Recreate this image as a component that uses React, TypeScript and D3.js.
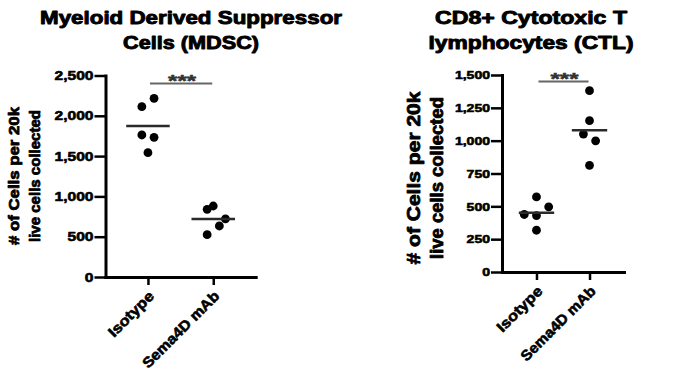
import React, { useEffect, useRef } from 'react';
import * as d3 from 'd3';

// groups on the x axis
const groups = ['Isotype', 'Sema4D mAb'];

// MDSC panel values (cells per 20k live cells)
const mdscIsotype = [2113, 2217, 1762, 1733, 1542];
const mdscSema4D = [840, 881, 720, 633, 525];
const mdscTicks = [0, 500, 1000, 1500, 2000, 2500];
const mdscTitle = ['Myeloid Derived Suppressor', 'Cells (MDSC)'];

// CTL panel values
const ctlIsotype = [572, 496, 438, 430, 318];
const ctlSema4D = [1381, 1152, 1050, 999, 812];
const ctlTicks = [0, 250, 500, 750, 1000, 1250, 1500];
const ctlTitle = ['CD8+ Cytotoxic T', 'lymphocytes (CTL)'];

// column scatter slots (how the points are spread sideways)
const mdscIsoSlots = [-1, 1, -1, 1, 0];
const mdscSemaSlots = [-1, 0, 2, 1, -1];
const ctlIsoSlots = [0, 2, -2, 0, 0];
const ctlSemaSlots = [0, 0, -1, 1, 0];

const yTitle = ['# of Cells per 20k', 'live cells collected'];
const sigLabel = '***';

const FONT = '"Liberation Sans", Arial, Helvetica, sans-serif';

const panels = [
  {
    title: mdscTitle,
    titleX: 191,
    titleLen: [302, 136],
    ticks: mdscTicks,
    series: [mdscIsotype, mdscSema4D],
    slots: [mdscIsoSlots, mdscSemaSlots],
    sigValue: 2400,
    x0: 105.5,
    x1: 255.7,
    yTop: 75.5,
    yBottom: 277,
    tickFont: 13,
    tickK: 1.2,
    axisTitle: { size: 15, xs: [19, 40], cy: 176, lens: [138, 132] },
    labelLens: [58, 102],
  },
  {
    title: ctlTitle,
    titleX: 531,
    titleLen: [192, 205],
    ticks: ctlTicks,
    series: [ctlIsotype, ctlSema4D],
    slots: [ctlIsoSlots, ctlSemaSlots],
    sigValue: 1450,
    x0: 502,
    x1: 624,
    yTop: 75,
    yBottom: 272,
    tickFont: 11.5,
    tickK: 1.22,
    axisTitle: { size: 18, xs: [420, 443], cy: 178, lens: [173, 162] },
    labelLens: [58, 99],
  },
];

function stretch(sel, k) {
  sel.each(function () {
    const w = this.getComputedTextLength();
    d3.select(this).attr('textLength', w * k).attr('lengthAdjust', 'spacingAndGlyphs');
  });
}

// bold text, thickened a little with a stroke of the same colour
function heavy(sel, size, sw) {
  return sel
    .attr('font-family', FONT)
    .attr('font-weight', 'bold')
    .attr('font-size', size)
    .attr('fill', '#000')
    .attr('stroke', '#000')
    .attr('stroke-width', sw)
    .attr('stroke-linejoin', 'round');
}

function drawPanel(svg, p) {
  const g = svg.append('g');

  const x = d3.scalePoint().domain(groups).range([p.x0, p.x1]).padding(0.65);
  const y = d3
    .scaleLinear()
    .domain([0, p.ticks[p.ticks.length - 1]])
    .range([p.yBottom, p.yTop]);
  const step = x.step();

  // title
  p.title.forEach((t, i) => {
    heavy(g.append('text'), 18, 0.9)
      .attr('x', p.titleX)
      .attr('y', 24 + i * 25)
      .attr('text-anchor', 'middle')
      .attr('textLength', p.titleLen[i])
      .attr('lengthAdjust', 'spacingAndGlyphs')
      .text(t);
  });

  // y axis
  const yAxis = g
    .append('g')
    .attr('transform', `translate(${p.x0},0)`)
    .call(
      d3
        .axisLeft(y)
        .tickValues(p.ticks)
        .tickFormat(d3.format(','))
        .tickSize(11)
        .tickSizeOuter(0)
        .tickPadding(1),
    );
  yAxis.select('.domain').attr('stroke', '#000').attr('stroke-width', 3).attr('stroke-linecap', 'square');
  yAxis.selectAll('.tick line').attr('stroke', '#000').attr('stroke-width', 2.5);
  const yLabels = heavy(yAxis.selectAll('.tick text'), p.tickFont, 0.6);
  stretch(yLabels, p.tickK);

  // x axis
  const xAxis = g
    .append('g')
    .attr('transform', `translate(0,${p.yBottom})`)
    .call(d3.axisBottom(x).tickSize(8).tickSizeOuter(0).tickFormat(() => ''));
  xAxis.select('.domain').attr('stroke', '#000').attr('stroke-width', 3).attr('stroke-linecap', 'square');
  xAxis.selectAll('.tick line').attr('stroke', '#000').attr('stroke-width', 2.5);

  groups.forEach((name, i) => {
    const bx = x(name) + 7;
    const by = p.yBottom + 20;
    heavy(g.append('text'), 14.5, 0.6)
      .attr('transform', `translate(${bx},${by}) rotate(-45)`)
      .attr('text-anchor', 'end')
      .attr('textLength', p.labelLens[i])
      .attr('lengthAdjust', 'spacingAndGlyphs')
      .text(name);
  });

  // y axis title
  const at = p.axisTitle;
  yTitle.forEach((t, i) => {
    heavy(g.append('text'), at.size, 0.8)
      .attr('transform', `translate(${at.xs[i]},${at.cy}) rotate(-90)`)
      .attr('text-anchor', 'middle')
      .attr('textLength', at.lens[i])
      .attr('lengthAdjust', 'spacingAndGlyphs')
      .text(t);
  });

  // points + mean lines
  p.series.forEach((vals, i) => {
    const cx = x(groups[i]);
    const slots = p.slots[i];
    g.append('g')
      .selectAll('circle')
      .data(vals)
      .join('circle')
      .attr('cx', (d, j) => cx + slots[j] * 6.1)
      .attr('cy', (d) => y(d))
      .attr('r', 4.4)
      .attr('fill', '#000');

    const m = d3.mean(vals);
    g.append('line')
      .attr('x1', cx - step / 3)
      .attr('x2', cx + step / 3)
      .attr('y1', y(m))
      .attr('y2', y(m))
      .attr('stroke', '#2a2a2a')
      .attr('stroke-width', 2.5);
  });

  // significance bar
  const sx0 = x(groups[0]) + 2;
  const sx1 = x(groups[1]) - 1;
  const sy = y(p.sigValue);
  g.append('line')
    .attr('x1', sx0)
    .attr('x2', sx1)
    .attr('y1', sy)
    .attr('y2', sy)
    .attr('stroke', '#666')
    .attr('stroke-width', 2);
  heavy(g.append('text'), 17, 0.5)
    .attr('x', (sx0 + sx1) / 2 + 1)
    .attr('y', sy + 3)
    .attr('text-anchor', 'middle')
    .attr('fill', '#333')
    .attr('stroke', '#333')
    .attr('textLength', 28)
    .attr('lengthAdjust', 'spacingAndGlyphs')
    .text(sigLabel);
}

export default function App() {
  const ref = useRef(null);

  useEffect(() => {
    const svg = d3.select(ref.current);
    svg.selectAll('*').remove();
    panels.forEach((p) => drawPanel(svg, p));
  }, []);

  return (
    <div style={{ position: 'fixed', left: 0, top: 0, background: '#fff' }}>
      <svg ref={ref} width={695} height={372} style={{ display: 'block' }} />
    </div>
  );
}
